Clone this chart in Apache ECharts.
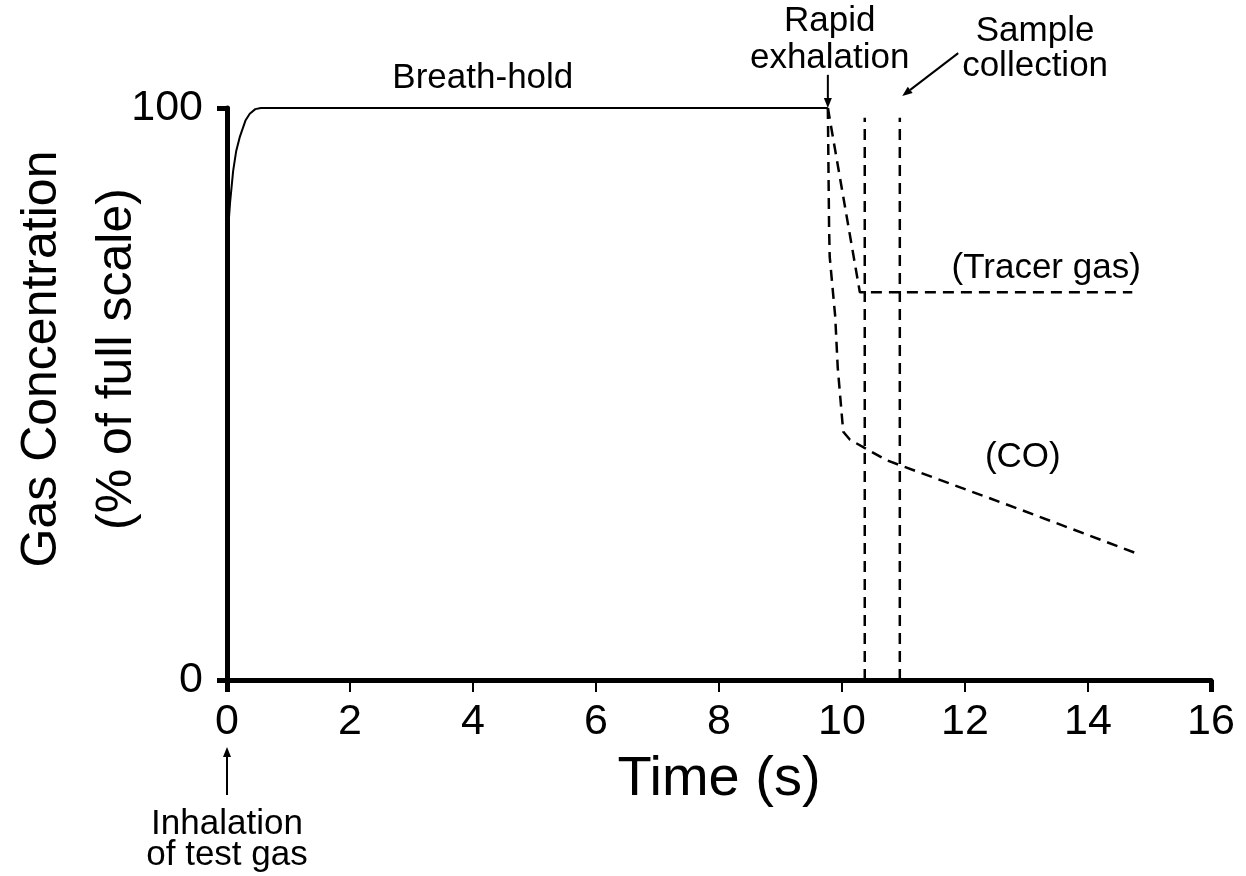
<!DOCTYPE html>
<html>
<head>
<meta charset="utf-8">
<script src="https://cdn.jsdelivr.net/npm/echarts@6/dist/echarts.min.js"></script>
<style>
  html, body { margin: 0; padding: 0; background: #fff; }
  #chart { width: 1246px; height: 876px; }
</style>
</head>
<body>
<div id="chart"></div>
<script>
// breath-hold trace (solid)
const breathTime = [0, 0.02, 0.05, 0.1, 0.15, 0.21, 0.3, 0.37, 0.46, 0.55, 9.77]
const breathConc = [75, 79, 83.5, 89, 92.5, 95, 97.8, 99, 99.8, 100, 100]

// tracer gas during exhalation (dashed)
const tracerTime = [9.77, 10.29, 14.72]
const tracerConc = [100, 67.8, 67.8]

// CO during exhalation (dashed)
const coTime = [9.77, 9.79, 9.8, 9.89, 9.93, 10.02, 10.13, 10.73, 12.9, 14.85]
const coConc = [100, 79, 74, 63.5, 54.7, 43.4, 42, 38.4, 29.8, 21.9]

// sample collection window (vertical dashed lines)
const sampleTimes = [10.37, 10.94]
const sampleTop = 98.3

const xTicks = { min: 0, max: 16, step: 2 }
const yTicks = { min: 0, max: 100, step: 100 }

// text notes, anchored in data units
const notes = [
  { text: 'Breath-hold', at: [4.16, 105.2] },
  { text: 'Rapid\nexhalation', at: [9.8, 111.9], lh: 37 },
  { text: 'Sample\ncollection', at: [13.14, 110.4], lh: 35 },
  { text: '(Tracer gas)', at: [13.32, 71.9] },
  { text: '(CO)', at: [12.94, 39.0] },
  { text: 'Inhalation\nof test gas', at: [0, -27.9], lh: 31 }
]
const arrows = [
  { from: [9.77, 105.8], to: [9.77, 100] },
  { from: [11.89, 109.6], to: [10.98, 102.1] },
  { from: [0, -20.1], to: [0, -11.7] }
]

const FONT = '"Liberation Sans", Arial, Helvetica, sans-serif'
const zip = (xs, ys) => xs.map((x, i) => [x, ys[i]])

const chart = echarts.init(document.getElementById('chart'))

const dashed = { color: '#000', width: 2.5, type: [11, 7] }

const option = {
  backgroundColor: '#fff',
  animation: false,
  grid: {
    left: 227, right: 35, top: 108, bottom: 196,
    containLabel: false,
    outerBoundsMode: 'none'
  },
  xAxis: [
    {
      type: 'value',
      min: xTicks.min,
      max: xTicks.max,
      interval: xTicks.step,
      position: 'bottom',
      name: 'Time (s)',
      nameLocation: 'middle',
      nameGap: 72,
      nameMoveOverlap: false,
      nameTextStyle: { color: '#000', fontSize: 56, fontFamily: FONT },
      axisLine: { lineStyle: { color: '#000', width: 5 } },
      axisTick: { length: 12, lineStyle: { color: '#000', width: 2 } },
      axisLabel: { color: '#000', fontSize: 43, fontFamily: FONT, margin: 21 },
      splitLine: { show: false }
    },
    {
      // thick end ticks at 0 and 16
      type: 'value',
      min: xTicks.min,
      max: xTicks.max,
      interval: xTicks.max - xTicks.min,
      position: 'bottom',
      offset: 0,
      axisLine: { show: false },
      axisTick: { length: 12, lineStyle: { color: '#000', width: 5 } },
      axisLabel: { show: false },
      splitLine: { show: false }
    }
  ],
  yAxis: {
    type: 'value',
    min: yTicks.min,
    max: yTicks.max,
    interval: yTicks.step,
    name: 'Gas Concentration\n(% of full scale)',
    nameLocation: 'middle',
    nameGap: 72,
    nameRotate: 90,
    nameMoveOverlap: false,
    nameTextStyle: {
      color: '#000', fontSize: 50, fontFamily: FONT, lineHeight: 75,
      padding: [0, 0, 0, 70]
    },
    axisLine: { show: true, lineStyle: { color: '#000', width: 5 } },
    axisTick: { show: true, length: 10, lineStyle: { color: '#000', width: 5 } },
    axisLabel: { color: '#000', fontSize: 43, fontFamily: FONT, margin: 24 },
    splitLine: { show: false }
  },
  series: [
    {
      name: 'Breath-hold',
      type: 'line',
      data: zip(breathTime, breathConc),
      showSymbol: false,
      lineStyle: { color: '#000', width: 2 },
      clip: false
    },
    {
      name: 'Tracer gas',
      type: 'line',
      data: zip(tracerTime, tracerConc),
      showSymbol: false,
      lineStyle: dashed
    },
    {
      name: 'CO',
      type: 'line',
      data: zip(coTime, coConc),
      showSymbol: false,
      lineStyle: dashed
    },
    ...sampleTimes.map(t => ({
      name: 'Sample ' + t,
      type: 'line',
      data: [[t, 0], [t, sampleTop]],
      showSymbol: false,
      lineStyle: dashed
    }))
  ]
}

chart.setOption(option)

// annotations placed through the grid's coordinate system
const px = p => chart.convertToPixel({ gridIndex: 0 }, p)
const graphics = []

notes.forEach(n => {
  const [x, y] = px(n.at)
  graphics.push({
    type: 'text',
    x, y,
    style: {
      text: n.text,
      fill: '#000',
      font: '35px ' + FONT,
      lineHeight: n.lh || 37,
      align: 'center',
      verticalAlign: 'middle'
    }
  })
})

arrows.forEach(a => {
  const [x1, y1] = px(a.from)
  const [x2, y2] = px(a.to)
  const ang = Math.atan2(y2 - y1, x2 - x1)
  const len = 10, half = 4
  const bx = x2 - len * Math.cos(ang), by = y2 - len * Math.sin(ang)
  graphics.push({
    type: 'line',
    shape: { x1, y1, x2: bx, y2: by },
    style: { stroke: '#000', lineWidth: 2 }
  })
  graphics.push({
    type: 'polygon',
    shape: {
      points: [
        [x2, y2],
        [bx + half * Math.sin(ang), by - half * Math.cos(ang)],
        [bx - half * Math.sin(ang), by + half * Math.cos(ang)]
      ]
    },
    style: { fill: '#000' }
  })
})

chart.setOption({ graphic: graphics })
</script>
</body>
</html>
